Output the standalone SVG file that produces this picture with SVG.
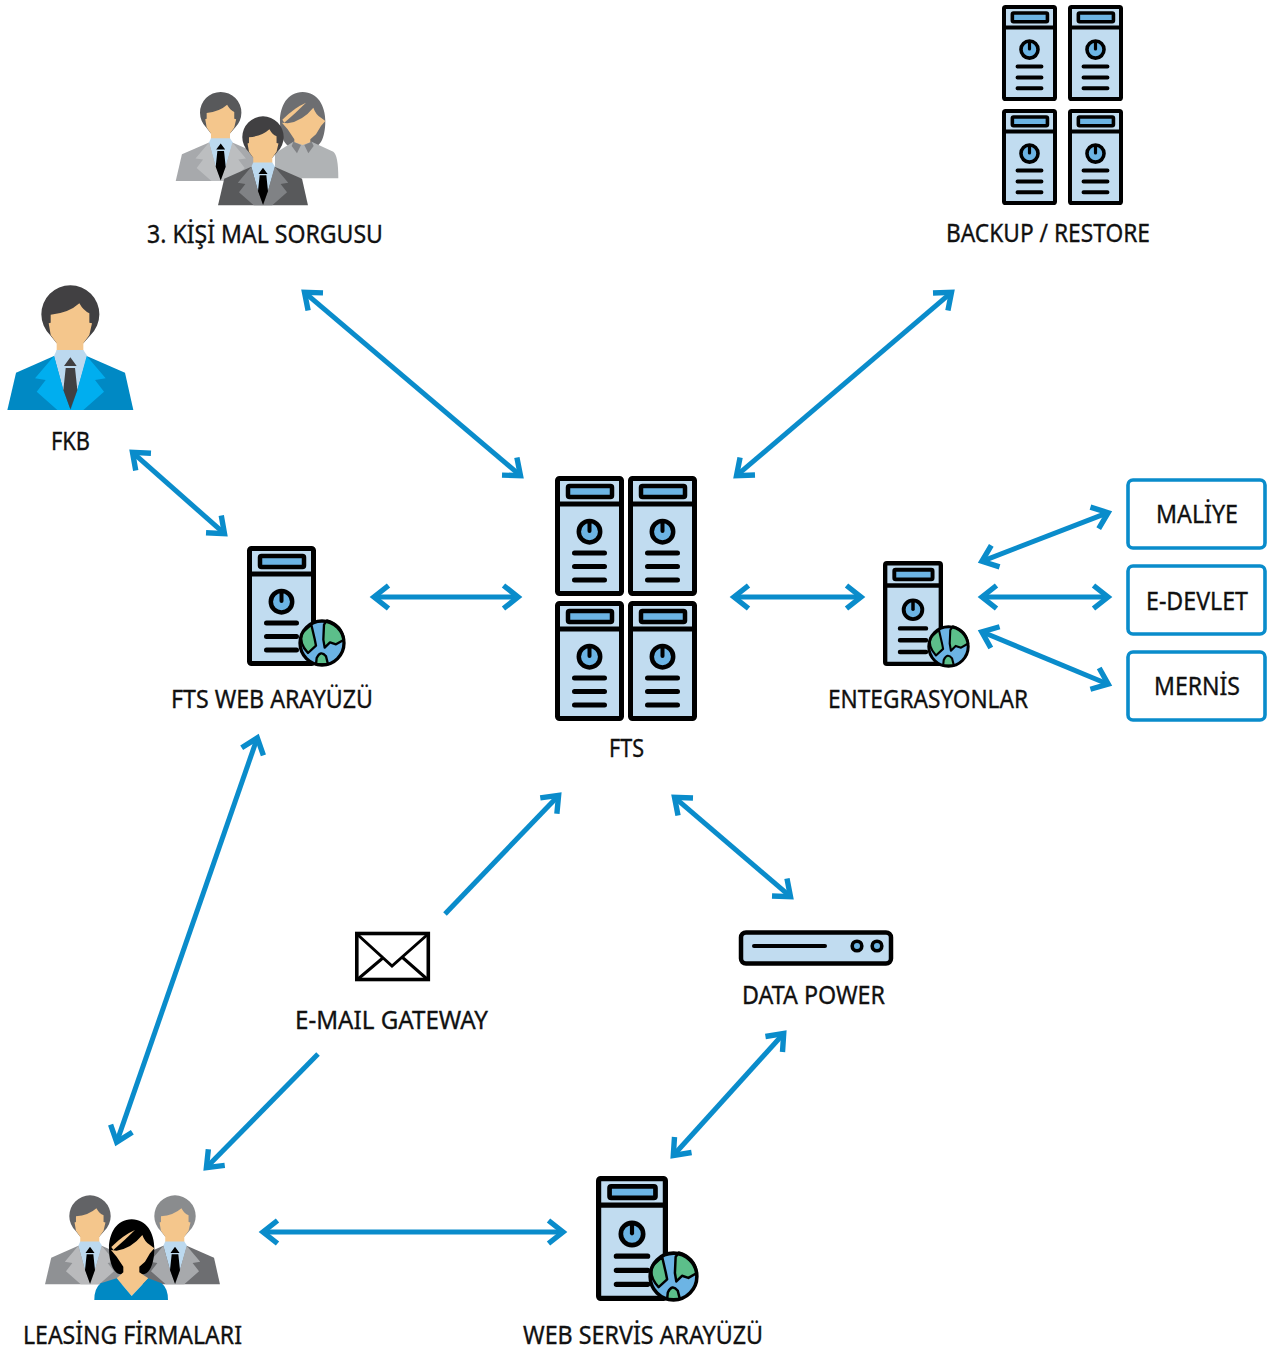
<svg xmlns="http://www.w3.org/2000/svg" width="1270" height="1353" viewBox="0 0 1270 1353">
<style>
text{font-family:"Noto Sans","Open Sans","DejaVu Sans",sans-serif;font-size:25px;fill:#111;stroke:#111;stroke-width:.35}
.arrow{fill:none;stroke:#0a8ccb;stroke-width:5;marker-start:url(#head);marker-end:url(#head)}
.single{marker-start:none}
.box{fill:#fff;stroke:#0a8ccb;stroke-width:3.6}
.k{stroke:#000;fill:none;stroke-linecap:round}
.face{fill:#f4c68c}
.m-blue{--hair:#414042;--body:#0089c4;--lapel:#00aeef;--tie:#414042}
.m-front{--hair:#414042;--body:#58595b;--lapel:#808285;--tie:#000}
.m-back{--hair:#58595b;--body:#a7a9ac;--lapel:#bcbec0;--tie:#000}
.m-l{--hair:#626366;--body:#8f9194;--lapel:#b9babc;--tie:#000}
.m-r{--hair:#8a8c8e;--body:#6d6e71;--lapel:#a7a9ac;--tie:#000}
</style>
<defs>
<marker id="head" markerUnits="userSpaceOnUse" markerWidth="40" markerHeight="40" viewBox="-30 -20 40 40" refX="0" refY="0" orient="auto-start-reverse" overflow="visible">
<path d="M-14.5,-11.5 L0,0 L-14.5,11.5" fill="none" stroke="#0a8ccb" stroke-width="5.4"/>
</marker>
<symbol id="server" viewBox="0 0 69 120" preserveAspectRatio="none">
<rect x="2.5" y="2.5" width="64" height="115" rx="2" fill="#c1dcf0" stroke="#000" stroke-width="5"/>
<path d="M2.5 28H66.5" stroke="#000" stroke-width="5"/>
<rect x="13" y="10" width="44" height="11" rx="1.5" fill="#6cb4e4" stroke="#000" stroke-width="4.5"/>
<circle cx="34.5" cy="55.7" r="10.7" fill="#6cb4e4" stroke="#000" stroke-width="4.5"/>
<path class="k" stroke-width="4" d="M34.5 46V55"/>
<path class="k" stroke-width="5" d="M19.5 77H49.5M19.5 90.5H49.5M19.5 104H49.5"/>
</symbol>
<symbol id="globe" viewBox="-72 -72 144 144" overflow="visible">
<circle r="66" fill="#6cb4e4"/>
<g fill="#5cbf8a" stroke="#000" stroke-width="7" stroke-linejoin="round">
<path d="M-60,-30L-32,-55L-22,-12L-18,8L-42,30Q-70,0 -60,-30Z"/>
<path d="M15,-68L6,-55L4,-10L8,14L24,-2L42,4L66,-10Q60,-55 15,-68Z"/>
<path d="M-18,64L-16,45Q-4,20 12,40L18,64Z"/>
</g>
<circle r="66" fill="none" stroke="#000" stroke-width="10"/>
</symbol>
<symbol id="man" viewBox="0 0 422 400">
<path d="M150,165A87,87 0 1 1 272,165L250,190L170,190Z" style="fill:var(--hair)"/>
<path class="face" d="M152,104Q205,100 238,70Q250,92 268,100L268,128L276,130L268,165L250,190L250,215L170,215L170,190L152,165L146,130L152,128Z"/>
<path d="M162,228L48,278L22,390L400,390L375,278L260,228Z" style="fill:var(--body)"/>
<path fill="#bcd9ef" d="M170,210L250,210L262,228L232,330L190,330L162,228Z"/>
<path d="M162,228L105,295L137,300L110,335L172,390L212,390L190,330Z" style="fill:var(--lapel)"/>
<path d="M260,228L317,295L285,300L312,335L250,390L212,390L232,330Z" style="fill:var(--lapel)"/>
<path d="M211,232L230,258L192,258ZM197,264L225,264L232,330L211,388L190,330Z" style="fill:var(--tie)"/>
</symbol>
<symbol id="womanhead" viewBox="0 0 610 360" style="overflow:visible">
<path d="M305,103C350,103 373,145 373,190C373,230 362,270 335,268L275,268C250,270 237,230 237,190C237,145 260,103 305,103Z" style="fill:var(--hair)"/>
<path class="face" d="M260,197Q305,190 337,150Q345,172 360,180L373,190L360,205L345,230L328,245L328,262L355,280L305,333L260,280L280,262L280,245L260,215L243,195Z"/>
<path class="face" d="M315,135Q280,150 244,186L250,195Q285,165 315,135Z"/>
</symbol>
</defs>
<g id="connectors">
<path class="arrow" d="M304.5,292.3L520.5,475.7"/>
<path class="arrow" d="M951.5,292.3L736.5,475.7"/>
<path class="arrow" d="M132.5,452.3L224.5,533.7"/>
<path class="arrow" d="M374,597L518,597"/>
<path class="arrow" d="M734,597L861,597"/>
<path class="arrow" d="M1108.1,512.7L981.9,561.3"/>
<path class="arrow" d="M982,597L1108,597"/>
<path class="arrow" d="M1108.2,684.2L981.8,631.8"/>
<path class="arrow" d="M257.3,737.9L116.7,1142.1"/>
<path class="arrow single" d="M445,914L558.6,795.4"/>
<path class="arrow" d="M674.5,797.3L790.5,896.7"/>
<path class="arrow single" d="M318,1054L206.4,1167.6"/>
<path class="arrow" d="M783.7,1033.5L673.3,1155.5"/>
<path class="arrow" d="M263,1232L563,1232"/>
</g>
<g id="kisi-mal-sorgusu">
<use href="#man" class="m-back" x="170.5" y="88.2" width="100.4" height="95.2"/>
<g transform="translate(150,80) scale(.3333) translate(153,-67)" style="--hair:#6d6e71">
<use href="#womanhead" width="610" height="360"/>
<path fill="#b0b3b5" d="M222,287L277,252L305,262L332,252L397,282Q412,292 412,362L222,362Z"/>
<path fill="#808285" d="M277,252L300,262L288,287L272,265ZM332,252L310,262L322,287L338,265Z"/>
</g>
<use href="#man" class="m-front" x="212.8" y="112.5" width="100.4" height="95.2"/>
<text x="147" y="243" textLength="236" lengthAdjust="spacingAndGlyphs">3. KİŞİ MAL SORGUSU</text>
</g>
<g id="backup-restore">
<use href="#server" x="1002" y="5" width="55" height="96"/>
<use href="#server" x="1068" y="5" width="55" height="96"/>
<use href="#server" x="1002" y="109" width="55" height="96"/>
<use href="#server" x="1068" y="109" width="55" height="96"/>
<text x="946" y="242" textLength="204" lengthAdjust="spacingAndGlyphs">BACKUP / RESTORE</text>
</g>
<g id="fkb">
<use href="#man" class="m-blue" x="0" y="280" width="140.7" height="133.3"/>
<text x="51" y="450" textLength="39" lengthAdjust="spacingAndGlyphs">FKB</text>
</g>
<g id="fts-web">
<use href="#server" x="247" y="546" width="69" height="120"/>
<use href="#globe" x="298" y="619" width="48" height="48"/>
<text x="171" y="708" textLength="202" lengthAdjust="spacingAndGlyphs">FTS WEB ARAYÜZÜ</text>
</g>
<g id="fts">
<use href="#server" x="555" y="476" width="69" height="120"/>
<use href="#server" x="628" y="476" width="69" height="120"/>
<use href="#server" x="555" y="601" width="69" height="120"/>
<use href="#server" x="628" y="601" width="69" height="120"/>
<text x="609" y="757" textLength="35" lengthAdjust="spacingAndGlyphs">FTS</text>
</g>
<g id="entegrasyonlar">
<use href="#server" x="883" y="561" width="60" height="105"/>
<use href="#globe" x="927" y="625" width="43" height="43"/>
<text x="828" y="708" textLength="200" lengthAdjust="spacingAndGlyphs">ENTEGRASYONLAR</text>
</g>
<g id="maliye">
<rect class="box" x="1128" y="480" width="137" height="68" rx="5"/>
<text x="1156" y="523" textLength="82" lengthAdjust="spacingAndGlyphs">MALİYE</text>
</g>
<g id="e-devlet">
<rect class="box" x="1128" y="566" width="137" height="68" rx="5"/>
<text x="1146" y="610" textLength="102" lengthAdjust="spacingAndGlyphs">E-DEVLET</text>
</g>
<g id="mernis">
<rect class="box" x="1128" y="652" width="137" height="68" rx="5"/>
<text x="1154" y="695" textLength="86" lengthAdjust="spacingAndGlyphs">MERNİS</text>
</g>
<g id="e-mail-gateway">
<rect x="356.8" y="933.5" width="71.5" height="46" fill="#fff" stroke="#000" stroke-width="3.6"/>
<path d="M358,935L392,966L427,935M358,979L384,957M427,979L402,957" fill="none" stroke="#000" stroke-width="3"/>
<text x="295" y="1029" textLength="193" lengthAdjust="spacingAndGlyphs">E-MAIL GATEWAY</text>
</g>
<g id="data-power">
<rect x="741" y="932.5" width="150" height="31" rx="5" fill="#c1dcf0" stroke="#000" stroke-width="4.5"/>
<path class="k" stroke-width="4" d="M754,946H825"/>
<circle cx="857" cy="946" r="4.8" fill="#6cb4e4" stroke="#000" stroke-width="3.6"/>
<circle cx="877" cy="946" r="4.8" fill="#6cb4e4" stroke="#000" stroke-width="3.6"/>
<text x="742" y="1004" textLength="143" lengthAdjust="spacingAndGlyphs">DATA POWER</text>
</g>
<g id="leasing-firmalari">
<use href="#man" class="m-l" x="39.8" y="1191.5" width="100.4" height="95.2"/>
<use href="#man" class="m-r" x="124.8" y="1191.5" width="100.4" height="95.2"/>
<g transform="translate(30,1185) scale(.3333)" style="--hair:#000">
<use href="#womanhead" width="610" height="360"/>
<path fill="#0089c4" d="M260,280L305,333L355,280L395,295Q414,310 414,345L193,345Q193,310 212,295Z"/>
</g>
<text x="23" y="1344" textLength="219" lengthAdjust="spacingAndGlyphs">LEASİNG FİRMALARI</text>
</g>
<g id="web-servis">
<use href="#server" x="596" y="1176" width="72" height="125"/>
<use href="#globe" x="648" y="1251" width="51" height="51"/>
<text x="523" y="1344" textLength="240" lengthAdjust="spacingAndGlyphs">WEB SERVİS ARAYÜZÜ</text>
</g>
</svg>
